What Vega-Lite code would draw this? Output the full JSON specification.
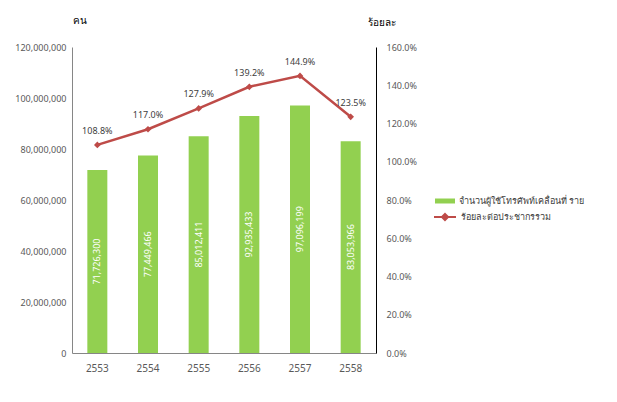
{
  "$schema": "https://vega.github.io/schema/vega-lite/v6.json",
  "width": 304,
  "height": 306,
  "autosize": "none",
  "padding": {"left": 72, "top": 47, "right": 241, "bottom": 49},
  "background": "white",
  "config": {
    "font": "Noto Sans",
    "view": {"stroke": null},
    "axis": {"labelFontSize": 9, "labelColor": "#595959", "ticks": false, "grid": false, "domainColor": "#868686", "titleFontWeight": "normal", "titleFontSize": 10, "titleColor": "#000000"}
  },
  "data": {
    "values": [
      {"year": "2553", "users": 71726300, "pct": 1.088, "bar": "จำนวนผู้ใช้โทรศัพท์เคลื่อนที่ ราย", "line": "ร้อยละต่อประชากรรวม"},
      {"year": "2554", "users": 77449466, "pct": 1.170, "bar": "จำนวนผู้ใช้โทรศัพท์เคลื่อนที่ ราย", "line": "ร้อยละต่อประชากรรวม"},
      {"year": "2555", "users": 85012411, "pct": 1.279, "bar": "จำนวนผู้ใช้โทรศัพท์เคลื่อนที่ ราย", "line": "ร้อยละต่อประชากรรวม"},
      {"year": "2556", "users": 92935433, "pct": 1.392, "bar": "จำนวนผู้ใช้โทรศัพท์เคลื่อนที่ ราย", "line": "ร้อยละต่อประชากรรวม"},
      {"year": "2557", "users": 97096199, "pct": 1.449, "bar": "จำนวนผู้ใช้โทรศัพท์เคลื่อนที่ ราย", "line": "ร้อยละต่อประชากรรวม"},
      {"year": "2558", "users": 83053966, "pct": 1.235, "bar": "จำนวนผู้ใช้โทรศัพท์เคลื่อนที่ ราย", "line": "ร้อยละต่อประชากรรวม"}
    ]
  },
  "encoding": {
    "x": {"field": "year", "type": "nominal", "title": null,
      "axis": {"labelAngle": 0, "labelPadding": 10, "labelFontSize": 10, "domainColor": "#868686"}}
  },
  "layer": [
    {
      "mark": {"type": "bar", "width": 20},
      "encoding": {
        "y": {"field": "users", "type": "quantitative",
          "scale": {"domain": [0, 120000000]},
          "axis": {"orient": "left", "format": ",d", "tickCount": 6, "labelPadding": 6, "title": "คน", "titleAngle": 0, "titleX": 7, "titleY": -27, "titleAlign": "center", "titleBaseline": "middle"}},
        "color": {"field": "bar", "type": "nominal", "scale": {"range": ["#92D050"]},
          "legend": {"orient": "none", "legendX": 363, "legendY": 144, "title": null, "symbolType": "M-1,-0.25H1V0.25H-1Z", "symbolSize": 400, "labelFontSize": 9, "labelColor": "#404040", "labelLimit": 300, "symbolStrokeWidth": 0}}
      }
    },
    {
      "mark": {"type": "text", "angle": 270, "color": "white", "fontSize": 9, "align": "center", "baseline": "middle"},
      "encoding": {
        "y": {"field": "users", "type": "quantitative", "scale": {"domain": [0, 240000000]}, "axis": null},
        "text": {"field": "users", "type": "quantitative", "format": ","}
      }
    },
    {
      "layer": [
        {
          "mark": {"type": "line", "strokeWidth": 2.5},
          "encoding": {
            "color": {"field": "line", "type": "nominal", "scale": {"range": ["#BE4B48"]},
              "legend": {"orient": "none", "legendX": 361, "legendY": 158, "title": null, "symbolType": "M-1,0H1M0,-0.28L0.28,0L0,0.28L-0.28,0Z", "symbolSize": 484, "symbolStrokeWidth": 2, "symbolFillColor": "#BE4B48", "labelFontSize": 9, "labelColor": "#404040", "labelLimit": 300}}
          }
        },
        {
          "mark": {"type": "point", "shape": "diamond", "filled": true, "size": 45, "color": "#BE4B48", "opacity": 1}
        },
        {
          "mark": {"type": "text", "dy": -14, "fontSize": 9, "color": "#404040"},
          "encoding": {"text": {"field": "pct", "type": "quantitative", "format": ".1%"}}
        }
      ],
      "encoding": {
        "y": {"field": "pct", "type": "quantitative", "scale": {"domain": [0, 1.6]},
          "axis": {"orient": "right", "format": ".1%", "tickCount": 8, "labelPadding": 10, "domainColor": "#000000", "title": "ร้อยละ", "titleAngle": 0, "titleX": 5, "titleY": -25, "titleAlign": "center", "titleBaseline": "middle"}}
      }
    }
  ],
  "resolve": {"scale": {"y": "independent", "color": "independent"}}
}
